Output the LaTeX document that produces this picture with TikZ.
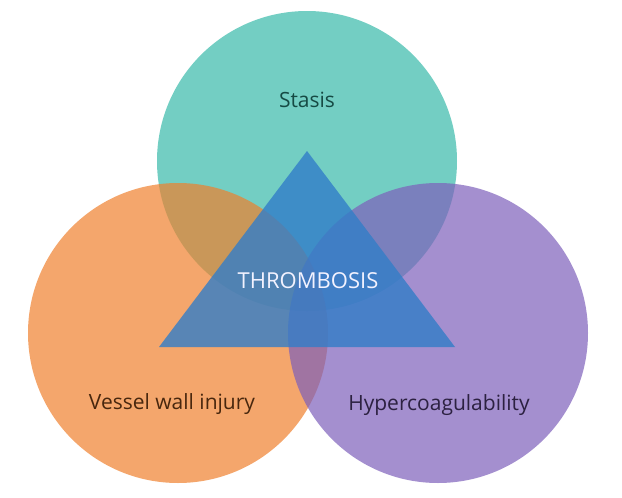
\documentclass[tikz,border=0pt]{standalone}
\usepackage{fontspec}
\setmainfont{Open Sans}
\definecolor{stasisc}{RGB}{55,185,169}
\definecolor{injuryc}{RGB}{239,128,45}
\definecolor{hyperc}{RGB}{125,95,186}
\definecolor{thrombc}{RGB}{50,125,200}

\begin{document}
\begin{tikzpicture}[x=1pt, y=-1pt,
  blob/.style={circle, minimum size=300pt, inner sep=0pt, fill opacity=0.7},
  lab/.style={anchor=base, font=\fontsize{21}{24}\selectfont}]
  \useasboundingbox (0,0) rectangle (622,498);
  % the three factors
  \node[blob, fill=stasisc] (stasis) at (307,161) {};
  \node[blob, fill=injuryc] (injury) at (178,333) {};
  \node[blob, fill=hyperc] (hyper) at (438,333) {};
  % triangle in the middle
  \coordinate (apex) at (307,151);
  \coordinate (bl) at (159,347);
  \coordinate (br) at (455,347);
  \fill[thrombc, fill opacity=0.8] (apex) -- (bl) -- (br) -- cycle;
  % labels
  \node[lab, text=stasisc!40!black] (stasislab) at (307,107) {Stasis};
  \node[lab, text=injuryc!30!black] (injurylab) at (172,409) {Vessel wall injury};
  \node[lab, text=hyperc!35!black] (hyperlab) at (439,410) {Hypercoagulability};
  \node[lab, text=blue!5!white, font=\fontsize{22}{26}\selectfont] (thromb) at (308,288) {THROMBOSIS};
\end{tikzpicture}
\end{document}
